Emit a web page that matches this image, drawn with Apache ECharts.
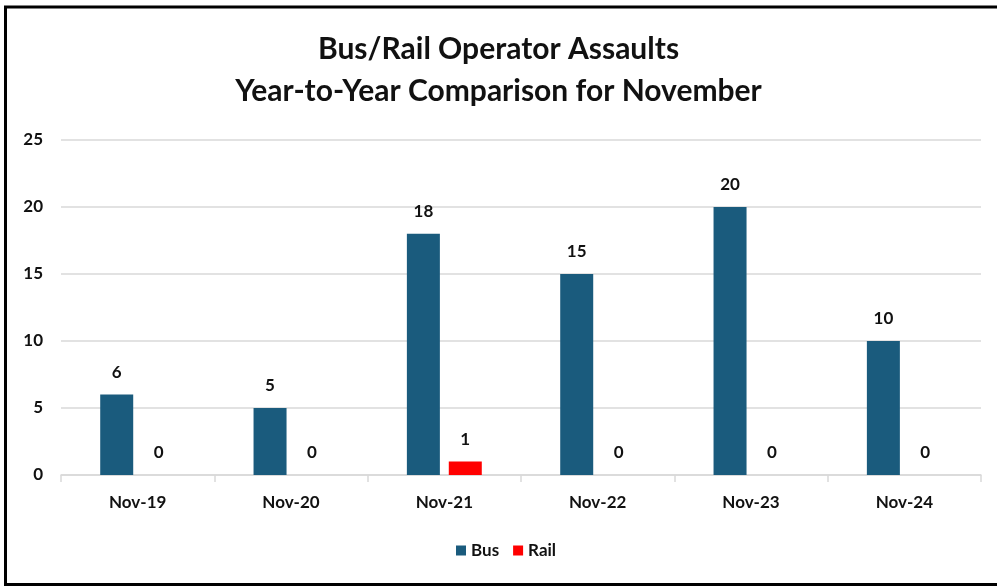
<!DOCTYPE html>
<html>
<head>
<meta charset="utf-8">
<script src="https://cdn.jsdelivr.net/npm/echarts@6/dist/echarts.min.js"></script>
<style>
  html, body { margin: 0; padding: 0; background: #fff; overflow: hidden; }
  #myChart { width: 997px; height: 588px; }
</style>
</head>
<body>
<div id="myChart"></div>
<script>
// values
var months = ['Nov-19', 'Nov-20', 'Nov-21', 'Nov-22', 'Nov-23', 'Nov-24']
var busValues = [6, 5, 18, 15, 20, 10]
var railValues = [0, 0, 1, 0, 0, 0]
var seriesNames = ['Bus', 'Rail']

var font = 'Lato, "Open Sans", sans-serif'
var myChart = echarts.init(document.getElementById('myChart'))

var labelStyle = {
  show: true,
  position: 'top',
  distance: 14,
  color: '#111',
  fontWeight: 'bold',
  fontSize: 17,
  fontFamily: font,
}

var option = {
  backgroundColor: '#fff',
  animation: false,
  title: {
    text: 'Bus/Rail Operator Assaults\nYear-to-Year Comparison for November',
    left: 'center',
    top: 23,
    padding: [5, 5, 5, 21],
    textStyle: {
      fontFamily: font,
      fontWeight: 'bold',
      fontSize: 30,
      lineHeight: 42,
      color: '#111',
    },
  },
  legend: {
    data: seriesNames,
    bottom: 24,
    left: 451,
    itemWidth: 10,
    itemHeight: 10,
    itemGap: 14,
    icon: 'rect',
    textStyle: { fontFamily: font, fontWeight: 'bold', fontSize: 17, color: '#111' },
  },
  grid: {
    left: 61,
    right: 16,
    top: 140,
    bottom: 113,
  },
  xAxis: {
    type: 'category',
    data: months,
    axisLine: { lineStyle: { color: '#d9d9d9', width: 1.5 } },
    axisTick: { show: true, length: 7, lineStyle: { color: '#d9d9d9', width: 1.5 } },
    axisLabel: {
      margin: 19,
      color: '#111',
      fontWeight: 'bold',
      fontSize: 17,
      fontFamily: font,
    },
  },
  yAxis: {
    type: 'value',
    min: 0,
    max: 25,
    interval: 5,
    axisLine: { show: false },
    axisTick: { show: false },
    axisLabel: {
      margin: 18,
      color: '#111',
      fontWeight: 'bold',
      fontSize: 17,
      fontFamily: font,
    },
    splitLine: { lineStyle: { color: '#d9d9d9', width: 1.5 } },
  },
  series: [
    {
      name: seriesNames[0],
      type: 'bar',
      data: busValues,
      barWidth: 33,
      barGap: '27%',
      itemStyle: { color: '#1a5b7d' },
      label: labelStyle,
    },
    {
      name: seriesNames[1],
      type: 'bar',
      data: railValues,
      barWidth: 33,
      itemStyle: { color: '#ff0000' },
      label: labelStyle,
    },
  ],
  graphic: [
    {
      // outer frame: left, top and bottom edges only (the right edge is cut off)
      type: 'polyline',
      silent: true,
      shape: { points: [[1200, 7], [5.5, 7], [5.5, 584.5], [1200, 584.5]] },
      style: { fill: null, stroke: '#000', lineWidth: 3 },
    },
  ],
}
myChart.setOption(option)
</script>
</body>
</html>
